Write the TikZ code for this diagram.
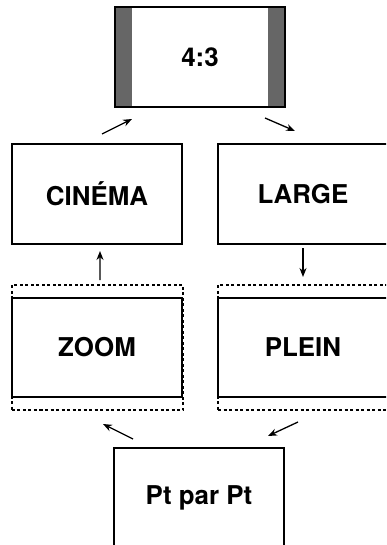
\documentclass[tikz,border=0pt]{standalone}
\usepackage{fontspec}
\setmainfont{TeX Gyre Heros}
\usetikzlibrary{arrows.meta}
\begin{document}
\begin{tikzpicture}[x=1bp,y=-1bp,
  modebox/.style={draw=black,line width=2bp,rectangle,minimum width=170bp,minimum height=100bp,inner sep=0pt,
    font=\fontsize{26}{30}\selectfont\bfseries},
  dotbox/.style={draw=black,line width=2bp,dash pattern=on 3bp off 2.5bp,rectangle,minimum width=171bp,minimum height=125bp,inner sep=0pt},
  arr/.style={line width=1.3bp,-{Stealth[length=9bp,width=7bp]}}]
\useasboundingbox (0,0) rectangle (386,545);
\clip (0,0) rectangle (386,545);
% 4:3 box with gray side bars
\fill[black!60] (115,7) rectangle (132,107);
\fill[black!60] (268,7) rectangle (285,107);
\node[modebox] (fourthree) at (200,57) {4:3};
\node[modebox] (cinema) at (97,194) {CINÉMA};
\node[modebox] (large) at (303,194) {LARGE};
\node[dotbox] (zoomdot) at (97.5,347.5) {};
\node[modebox,minimum height=99bp] (zoom) at (97,347.5) {ZOOM};
\node[dotbox] (pleindot) at (303.5,347.5) {};
\node[modebox,minimum height=99bp] (plein) at (303,347.5) {PLEIN};
\node[modebox] (pt) at (199,498) {Pt par Pt};
% connectors
\draw[arr] ([xshift=5bp,yshift=9bp]cinema.north) -- ([xshift=-68bp,yshift=-11bp]fourthree.south);
\draw[arr] ([xshift=65bp,yshift=-10bp]fourthree.south) -- ([xshift=-8bp,yshift=12bp]large.north);
\draw[arr] ([xshift=2.5bp,yshift=4bp]zoomdot.north) -- ([xshift=3bp,yshift=-6bp]cinema.south);
\draw[arr] ([yshift=-3bp]large.south) -- ([xshift=-0.5bp,yshift=7bp]pleindot.north);
\draw[arr] ([xshift=-66bp,yshift=8bp]pt.north) -- ([xshift=5.5bp,yshift=-13bp]zoomdot.south);
\draw[arr] ([xshift=-5.5bp,yshift=-11bp]pleindot.south) -- ([xshift=69bp,yshift=11bp]pt.north);
\end{tikzpicture}
\end{document}
